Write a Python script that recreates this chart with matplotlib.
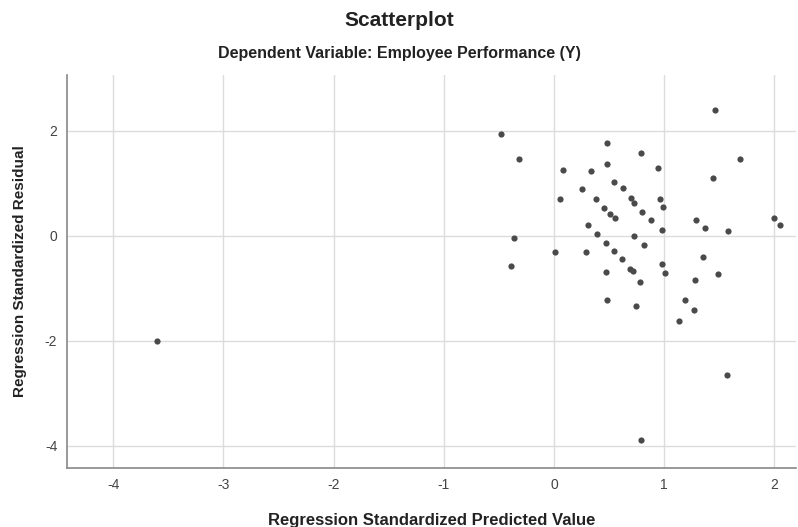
import matplotlib.pyplot as plt

# standardized predicted values (x) and standardized residuals (y)
pred = [1.46, -0.48, -0.32, 0.48, 0.79, 1.69, 0.08, 0.34, 0.48, 0.94,
        1.44, 0.54, 0.63, 0.25, 0.05, 0.38, 0.70, 0.73, 0.96, 0.99,
        0.45, 0.51, 0.55, 0.80, 0.88, 1.29, 1.37, 1.58, 2.00, 2.05,
        0.98, 0.31, 0.39, 0.73, -0.36, 0.47, 0.82, 0.01, 0.29, 0.54,
        0.62, 1.35, -0.39, 0.98, 0.47, 0.69, 0.72, 1.01, 0.78, 1.28,
        1.49, 0.48, 0.74, 1.19, 1.27, 1.13, 1.57, 0.79, -3.60]
resid = [2.40, 1.94, 1.47, 1.78, 1.58, 1.47, 1.25, 1.23, 1.38, 1.30,
         1.10, 1.02, 0.91, 0.90, 0.70, 0.70, 0.72, 0.62, 0.71, 0.56,
         0.54, 0.41, 0.35, 0.46, 0.31, 0.31, 0.15, 0.09, 0.34, 0.20,
         0.11, 0.21, 0.03, -0.01, -0.04, -0.13, -0.18, -0.30, -0.30, -0.28,
         -0.44, -0.41, -0.57, -0.54, -0.69, -0.62, -0.66, -0.70, -0.87, -0.83,
         -0.72, -1.22, -1.33, -1.22, -1.41, -1.62, -2.65, -3.89, -2.00]

xticks = [-4, -3, -2, -1, 0, 1, 2]
yticks = [-4, -2, 0, 2]

plt.rcParams['font.family'] = ['Liberation Sans', 'DejaVu Sans']
plt.rcParams['axes.unicode_minus'] = False

fig = plt.figure(figsize=(7.98, 5.27), dpi=100)
ax = fig.add_axes([0.084, 0.112, 0.914, 0.746])

ax.scatter(pred, resid, s=20, color='#4a4a4a', zorder=3, linewidths=0)

ax.set_xlim(-4.42, 2.2)
ax.set_ylim(-4.42, 3.07)
ax.set_xticks(xticks)
ax.set_yticks(yticks)
ax.grid(True, color='#dcdcdc', linewidth=1)
ax.set_axisbelow(True)
ax.tick_params(length=0, labelsize=10, colors='#444444', pad=7)

for side in ['top', 'right']:
    ax.spines[side].set_visible(False)
for side in ['left', 'bottom']:
    ax.spines[side].set_color('#888888')
    ax.spines[side].set_linewidth(1.2)

ax.set_xlabel('Regression Standardized Predicted Value', fontsize=12,
              fontweight='bold', labelpad=15, color='#222222')
ax.set_ylabel('Regression Standardized Residual', fontsize=11,
              fontweight='bold', labelpad=13, color='#222222')

fig.text(0.5, 0.962, 'Scatterplot', ha='center', va='center',
         fontsize=15, fontweight='bold', color='#222222')
fig.text(0.5, 0.899, 'Dependent Variable: Employee Performance (Y)',
         ha='center', va='center', fontsize=11.5, fontweight='bold', color='#222222')

fig.savefig('out.png', dpi=100)
